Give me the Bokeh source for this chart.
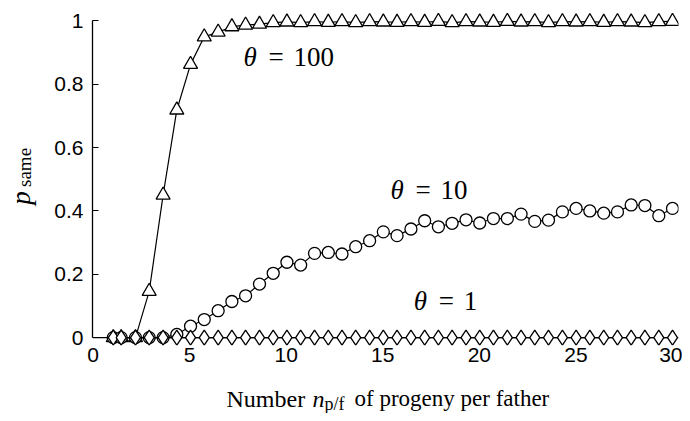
import math
from bokeh.plotting import figure
from bokeh.models import Range1d, FixedTicker, NumeralTickFormatter, Label, Span
from bokeh.layouts import column, row
from bokeh.embed import file_html
from bokeh.resources import INLINE

# ---- data ----
n_pf = [1.05, 1.46, 2.20, 2.91, 3.63, 4.34, 5.05, 5.76, 6.48, 7.19, 7.90, 8.62,
        9.33, 10.04, 10.75, 11.47, 12.18, 12.89, 13.60, 14.32, 15.03, 15.74,
        16.46, 17.17, 17.88, 18.59, 19.31, 20.02, 20.73, 21.45, 22.16, 22.87,
        23.58, 24.30, 25.01, 25.72, 26.44, 27.15, 27.86, 28.57, 29.29, 30.00]

p_theta100 = [0, 0, 0, 0.146, 0.45, 0.719, 0.863, 0.95, 0.965, 0.982, 0.987, 0.99,
              0.995, 0.997, 0.995, 0.998, 0.996, 0.998, 0.995, 0.998, 0.997, 0.996,
              0.998, 0.996, 0.999, 0.995, 0.998, 0.997, 0.996, 0.999, 0.997, 0.998,
              0.995, 0.998, 0.997, 0.998, 0.996, 0.998, 0.997, 0.995, 0.998, 0.999]

p_theta10 = [0, 0, 0, 0, 0, 0.01, 0.036, 0.057, 0.085, 0.114, 0.132, 0.169,
             0.203, 0.238, 0.229, 0.266, 0.269, 0.264, 0.287, 0.306, 0.334, 0.322,
             0.343, 0.369, 0.35, 0.361, 0.372, 0.362, 0.376, 0.376, 0.39, 0.367,
             0.371, 0.397, 0.408, 0.40, 0.393, 0.397, 0.419, 0.417, 0.385, 0.408]

p_theta1 = [0] * 42

x_ticks = [0, 5, 10, 15, 20, 25, 30]
y_ticks = [0, 0.2, 0.4, 0.6, 0.8, 1]

SERIF = "Liberation Serif"
SANS = "Liberation Sans"

# ---- main plot ----
p = figure(width=634, height=375, output_backend="svg", toolbar_location=None,
           x_range=Range1d(-0.025, 30.31), y_range=Range1d(-0.025, 1.03),
           min_border_left=44, min_border_right=4, min_border_top=11,
           min_border_bottom=30)
p.grid.visible = False
p.outline_line_color = None

for ax in (p.xaxis[0], p.yaxis[0]):
    ax.major_tick_in = 6
    ax.major_tick_out = 0
    ax.minor_tick_in = 0
    ax.minor_tick_out = 0
    ax.axis_line_color = "black"
    ax.axis_line_width = 1.3
    ax.major_tick_line_color = "black"
    ax.major_tick_line_width = 1.2
    ax.major_label_text_font = SANS
    ax.major_label_text_font_size = "21px"
    ax.major_label_text_color = "black"

p.xaxis.ticker = FixedTicker(ticks=x_ticks)
p.yaxis.ticker = FixedTicker(ticks=y_ticks)
p.xaxis.bounds = (0, 30)
p.yaxis.bounds = (0, 1)
p.xaxis.axis_line_color = None
p.xaxis.major_tick_line_color = None
p.yaxis.formatter = NumeralTickFormatter(format="0.[0]")
p.xaxis.major_label_standoff = 2
p.yaxis.major_label_standoff = 9

# horizontal axis line at p = 0
p.add_layout(Span(location=0, dimension="width", line_color="black",
                  line_width=1.3, level="underlay"))

mk = dict(line_color="black", fill_color="white", line_width=1.3)

p.line(n_pf, p_theta100, line_color="black", line_width=1.2)
p.scatter(n_pf, p_theta100, marker="triangle", size=14, **mk)

p.line(n_pf, p_theta10, line_color="black", line_width=1.2)
p.scatter(n_pf, p_theta10, marker="circle", size=12, **mk)

p.line(n_pf, p_theta1, line_color="black", line_width=1.2)
p.scatter(n_pf, p_theta1, marker="diamond", size=15, **mk)

# curve annotations: theta (italic), "=", number
def theta_label(x, y, num):
    common = dict(x=x, y=y, text_font=SERIF, text_font_size="27px",
                  text_baseline="middle", text_align="left", text_color="black")
    p.add_layout(Label(text="θ", text_font_style="italic", **common))
    p.add_layout(Label(text="=", x_offset=25, **common))
    p.add_layout(Label(text=num, x_offset=50, **common))

theta_label(7.79, 0.885, "100")
theta_label(15.4, 0.465, "10")
theta_label(16.6, 0.114, "1")

# ---- x-axis label strip ----
q = figure(width=682, height=38, output_backend="svg", toolbar_location=None,
           x_range=Range1d(0, 682), y_range=Range1d(0, 38),
           x_axis_type=None, y_axis_type=None, min_border=0)
q.outline_line_color = None
q.grid.visible = False
base = dict(text_font=SERIF, text_baseline="alphabetic", text_align="left",
            text_color="black")
q.add_layout(Label(x=226, y=15, text="Number", text_font_size="24px", **base))
q.add_layout(Label(x=312, y=15, text="n", text_font_size="24px",
                   text_font_style="italic", **base))
q.add_layout(Label(x=324, y=10, text="p/f", text_font_size="18px", **base))
q.add_layout(Label(x=354, y=15, text="of progeny per father", text_font_size="23px", **base))

# ---- y-axis label strip ----
r = figure(width=48, height=375, output_backend="svg", toolbar_location=None,
           x_range=Range1d(0, 48), y_range=Range1d(0, 375),
           x_axis_type=None, y_axis_type=None, min_border=0)
r.outline_line_color = None
r.grid.visible = False
r.add_layout(Label(x=20, y=158, text="p", text_font_size="27px", text_font_style="italic",
                   angle=math.pi / 2, **base))
r.add_layout(Label(x=24, y=178, text="same", text_font_size="19px",
                   angle=math.pi / 2, **base))

layout = column(row(r, p), q)
open("out.html", "w").write(file_html(layout, INLINE))
